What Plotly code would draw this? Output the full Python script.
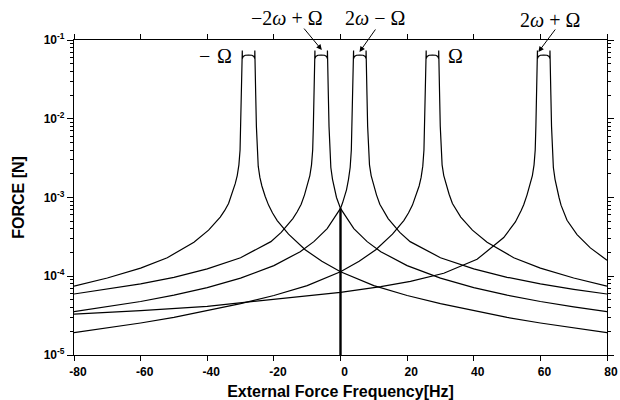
import plotly.graph_objects as go

# ---------------- data ----------------
# curve peaking at -Omega
f_neg_omega = [-80, -70, -60, -52, -44, -39.6, -36.1, -34.8, -33.6, -32.6, -31.6, -31.0, -30.5, -30.15, -29.95, -29.75,
               -29.5, -29.48, -29.46, -29.2, -28.6, -27.6, -26.6, -26.0, -25.74, -25.72, -25.7,
               -25.45, -25.25, -25.05, -24.7, -24.2, -23.6, -22.6, -21.6, -20.4, -19.0, -15.6, -10.6, -5.6, 0,
               10, 20, 30, 40, 50, 60, 70, 80]
F_neg_omega = [7.5e-5, 9.5e-5, 1.27e-4, 1.72e-4, 2.7e-4, 3.85e-4, 5.65e-4, 6.8e-4, 8.4e-4, 1.1e-3, 1.5e-3, 1.9e-3, 2.6e-3, 4.0e-3, 8.0e-3, 2.0e-2,
               5.6e-2, 7.35e-2, 5.8e-2, 6.2e-2, 6.4e-2, 6.45e-2, 6.4e-2, 6.2e-2, 5.8e-2, 7.35e-2, 5.6e-2,
               2.0e-2, 8.0e-3, 4.0e-3, 2.5e-3, 1.8e-3, 1.4e-3, 1.03e-3, 8.0e-4, 6.35e-4, 5.1e-4, 3.42e-4, 2.17e-4, 1.55e-4, 1.14e-4,
               7.6e-5, 5.7e-5, 4.5e-5, 3.65e-5, 3.0e-5, 2.55e-5, 2.2e-5, 1.92e-5]

# curve peaking at -2w+Omega
f_m2w_p_omega = [-80, -70, -60, -50, -40, -30, -20.9, -17.8, -14.3, -13.0, -11.8, -10.8, -9.8, -9.2, -8.7, -8.35, -8.15, -7.95,
                 -7.7, -7.68, -7.66, -7.4, -6.8, -5.8, -4.8, -4.2, -3.94, -3.92, -3.9,
                 -3.65, -3.45, -3.25, -2.9, -2.4, -1.8, -1.2, -0.6, 0, 4, 8, 12.1, 20, 30, 40, 50, 60, 70, 80]
F_m2w_p_omega = [5.95e-5, 6.83e-5, 8.0e-5, 9.7e-5, 1.24e-4, 1.72e-4, 2.75e-4, 3.6e-4, 5.4e-4, 6.6e-4, 8.2e-4, 1.08e-3, 1.5e-3, 1.9e-3, 2.6e-3, 4.0e-3, 8.0e-3, 2.0e-2,
                 5.6e-2, 7.35e-2, 5.8e-2, 6.2e-2, 6.4e-2, 6.45e-2, 6.4e-2, 6.2e-2, 5.8e-2, 7.35e-2, 5.6e-2,
                 2.0e-2, 8.0e-3, 4.0e-3, 2.4e-3, 1.7e-3, 1.25e-3, 1.0e-3, 8.5e-4, 7.26e-4, 4.03e-4, 2.75e-4, 2.05e-4, 1.364e-4, 9.45e-5, 7.17e-5, 5.75e-5, 4.78e-5, 4.08e-5, 3.55e-5]

# curve peaking at 2w-Omega
f_2w_m_omega = [-80, -70, -60, -50, -40, -30, -20, -12.1, -8, -4, 0, 0.6, 1.2, 1.8, 2.4, 2.9, 3.25, 3.45, 3.65,
                3.9, 3.92, 3.94, 4.2, 4.8, 5.8, 6.8, 7.4, 7.66, 7.68, 7.7,
                7.95, 8.15, 8.35, 8.7, 9.2, 9.8, 10.8, 11.8, 13.0, 14.3, 17.8, 20.9, 30, 40, 50, 60, 70, 80]
F_2w_m_omega = [3.55e-5, 4.08e-5, 4.78e-5, 5.75e-5, 7.17e-5, 9.45e-5, 1.364e-4, 2.05e-4, 2.75e-4, 4.03e-4, 7.26e-4, 8.5e-4, 1.0e-3, 1.25e-3, 1.7e-3, 2.4e-3, 4.0e-3, 8.0e-3, 2.0e-2,
                5.6e-2, 7.35e-2, 5.8e-2, 6.2e-2, 6.4e-2, 6.45e-2, 6.4e-2, 6.2e-2, 5.8e-2, 7.35e-2, 5.6e-2,
                2.0e-2, 8.0e-3, 4.0e-3, 2.6e-3, 1.9e-3, 1.5e-3, 1.08e-3, 8.2e-4, 6.6e-4, 5.4e-4, 3.6e-4, 2.75e-4, 1.72e-4, 1.24e-4, 9.7e-5, 8.0e-5, 6.83e-5, 5.95e-5]

# curve peaking at Omega
f_omega = [-80, -70, -60, -50, -40, -30, -20, -10, 0, 5.6, 10.6, 15.6, 19.0, 20.4, 21.6, 22.6, 23.6, 24.2, 24.7, 25.05, 25.25, 25.45,
           25.7, 25.72, 25.74, 26.0, 26.6, 27.6, 28.6, 29.2, 29.46, 29.48, 29.5,
           29.75, 29.95, 30.15, 30.5, 31.0, 31.6, 32.6, 33.6, 34.8, 36.1, 39.6, 44, 52, 60, 70, 80]
F_omega = [1.92e-5, 2.2e-5, 2.55e-5, 3.0e-5, 3.65e-5, 4.5e-5, 5.7e-5, 7.6e-5, 1.14e-4, 1.55e-4, 2.17e-4, 3.42e-4, 5.1e-4, 6.35e-4, 8.0e-4, 1.03e-3, 1.4e-3, 1.8e-3, 2.5e-3, 4.0e-3, 8.0e-3, 2.0e-2,
           5.6e-2, 7.35e-2, 5.8e-2, 6.2e-2, 6.4e-2, 6.45e-2, 6.4e-2, 6.2e-2, 5.8e-2, 7.35e-2, 5.6e-2,
           2.0e-2, 8.0e-3, 4.0e-3, 2.6e-3, 1.9e-3, 1.5e-3, 1.1e-3, 8.4e-4, 6.8e-4, 5.65e-4, 3.85e-4, 2.7e-4, 1.72e-4, 1.27e-4, 9.5e-5, 7.5e-5]

# curve peaking at 2w+Omega
f_2w_p_omega = [-80, -60, -40, -20.9, 0, 12.1, 21, 31, 41, 49, 52.5, 54.2, 55, 56, 57, 57.6, 58.1, 58.45, 58.65, 58.85,
                59.1, 59.12, 59.14, 59.4, 60.0, 61.0, 62.0, 62.6, 62.86, 62.88, 62.9,
                63.15, 63.35, 63.55, 63.9, 64.4, 65.0, 65.6, 66.2, 68, 71, 75, 80]
F_2w_p_omega = [3.3e-5, 3.65e-5, 4.15e-5, 5.0e-5, 6.25e-5, 7.4e-5, 8.6e-5, 1.09e-4, 1.64e-4, 3.1e-4, 4.9e-4, 6.8e-4, 8.1e-4, 1.08e-3, 1.5e-3, 1.9e-3, 2.6e-3, 4.0e-3, 8.0e-3, 2.0e-2,
                5.6e-2, 7.35e-2, 5.8e-2, 6.2e-2, 6.4e-2, 6.45e-2, 6.4e-2, 6.2e-2, 5.8e-2, 7.35e-2, 5.6e-2,
                2.0e-2, 8.0e-3, 4.0e-3, 2.4e-3, 1.7e-3, 1.25e-3, 1.0e-3, 8.0e-4, 5.13e-4, 3.38e-4, 2.29e-4, 1.6e-4]

# vertical stem at 0 Hz
stem_f = [0, 0]
stem_F = [1e-5, 7.26e-4]

x_tickvals = [-80, -60, -40, -20, 0, 20, 40, 60, 80]
x_ticktext = ['-80', '-60', '-40', '-20', '0', '20', '40', '60', '80']
y_tickvals = [1e-5, 1e-4, 1e-3, 1e-2, 1e-1]
y_ticktext = ['10<sup>-5</sup>', '10<sup>-4</sup>', '10<sup>-3</sup>', '10<sup>-2</sup>', '10<sup>-1</sup>']

sp = '\u2005'
peak_labels = ['\u2212' + '\u2004' + '\u03a9',
               '\u22122<i>\u03c9</i>' + sp + '+' + sp + '\u03a9',
               '2<i>\u03c9</i>' + sp + '\u2212' + sp + '\u03a9',
               '\u03a9',
               '2<i>\u03c9</i>' + sp + '+' + sp + '\u03a9']

# ---------------- figure ----------------
fig = go.Figure()
line_style = dict(color='black', width=1.2)
for fx, fy in [(f_neg_omega, F_neg_omega), (f_m2w_p_omega, F_m2w_p_omega),
               (f_2w_m_omega, F_2w_m_omega), (f_omega, F_omega), (f_2w_p_omega, F_2w_p_omega)]:
    fig.add_trace(go.Scatter(x=fx, y=fy, mode='lines', line=line_style, showlegend=False, hoverinfo='skip'))

fig.add_trace(go.Scatter(x=stem_f, y=stem_F, mode='lines', line=dict(color='black', width=2.4),
                         showlegend=False, hoverinfo='skip'))

sans = 'Liberation Sans, Arial, sans-serif'
serif = 'Liberation Serif, Times New Roman, serif'

fig.update_xaxes(range=[-80, 80], tickmode='array', tickvals=x_tickvals, ticktext=x_ticktext,
                 ticks='outside', ticklen=5, tickwidth=1, tickcolor='black', ticklabelshift=4,
                 showline=True, linecolor='black', linewidth=1.3, mirror='ticks',
                 showgrid=False, zeroline=False, automargin=False,
                 tickfont=dict(family=sans, size=12, color='black', weight='bold'),
                 title=dict(text='External Force Frequency[Hz]', standoff=9,
                            font=dict(family=sans, size=16, color='black', weight='bold')))
fig.update_yaxes(type='log', range=[-5, -1], tickmode='array', tickvals=y_tickvals, ticktext=y_ticktext,
                 ticks='outside', ticklen=6, tickwidth=1, tickcolor='black',
                 minor=dict(ticks='outside', ticklen=3, tickwidth=1, tickcolor='black', dtick='D1', showgrid=False),
                 showline=True, linecolor='black', linewidth=1.3, mirror='ticks',
                 showgrid=False, zeroline=False, automargin=False,
                 tickfont=dict(family=sans, size=12, color='black', weight='bold'),
                 title=dict(text='FORCE [N]', standoff=15,
                            font=dict(family=sans, size=16, color='black', weight='bold')))

annots = []
lab_font = dict(family=serif, size=20, color='black')
for txt, xx, yy in [(peak_labels[0], -37.4, 0.949), (peak_labels[1], -16.0, 1.07),
                    (peak_labels[2], 10.4, 1.07), (peak_labels[3], 34.4, 0.949),
                    (peak_labels[4], 62.9, 1.062)]:
    annots.append(dict(x=xx, y=yy, xref='x', yref='paper', text=txt, showarrow=False,
                       font=lab_font, xanchor='center', yanchor='middle'))
for xx, yy, axp, ayp in [(-5.6, 0.968, -19, -23), (5.7, 0.962, 17, -24), (59.4, 0.962, 18, -24)]:
    annots.append(dict(x=xx, y=yy, xref='x', yref='paper', text='', showarrow=True,
                       ax=axp, ay=ayp, arrowhead=2, arrowsize=1.1, arrowwidth=1, arrowcolor='black',
                       standoff=0))

fig.update_layout(width=620, height=400, margin=dict(l=74, r=13, t=40, b=45),
                  paper_bgcolor='white', plot_bgcolor='white', annotations=annots)

# remove the browser's default 8 px page margin so the 620x400 figure fills the window exactly
fig.write_html('out.html', config={'displayModeBar': False},
               post_script="document.body.style.margin='0px';")
